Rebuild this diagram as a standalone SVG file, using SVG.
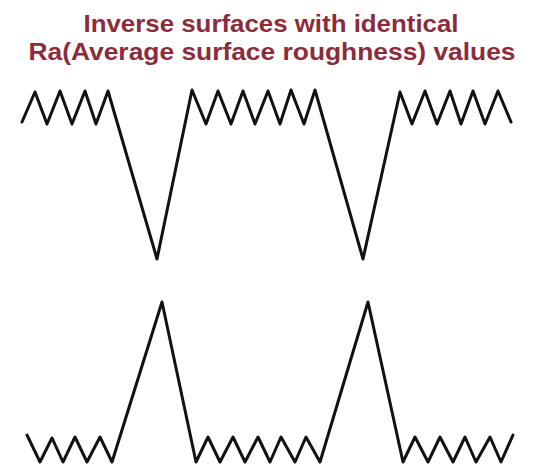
<svg xmlns="http://www.w3.org/2000/svg" width="546" height="475" viewBox="0 0 546 475">
<style>
.title{font-family:"Liberation Sans",Arial,sans-serif;font-weight:bold;font-size:24px;fill:#8c2b3c;text-anchor:middle}
.prof{fill:none;stroke:#111;stroke-width:3;stroke-linejoin:round;stroke-linecap:round}
</style>
<rect width="546" height="475" fill="#fff"/>
<g id="title">
<text class="title" x="271" y="32" textLength="375" lengthAdjust="spacingAndGlyphs">Inverse surfaces with identical</text>
<text class="title" x="272" y="60" textLength="487" lengthAdjust="spacingAndGlyphs">Ra(Average surface roughness) values</text>
</g>
<g id="top-surface">
<polyline class="prof" points="22,122 35,92 47,124 60,91 72,124 85,91 96,124 108,91 157,259 192,90 206,124 218,91 231,124 243,91 255,124 268,91 280,124 291,90 304,124 315,90 363,259 400,92 412,124 425,91 437,124 450,91 461,124 473,91 485,124 498,91 511,122"/>
</g>
<g id="bottom-surface">
<polyline class="prof" points="27,435 40,462 52,438 63,462 75,437 87,462 100,437 112,462 162,302 196,462 208,437 220,462 233,437 245,462 258,437 270,462 281,437 295,462 306,437 320,462 368,302 403,462 415,437 428,462 440,437 453,462 465,437 476,462 490,437 501,462 513,435"/>
</g>
</svg>
